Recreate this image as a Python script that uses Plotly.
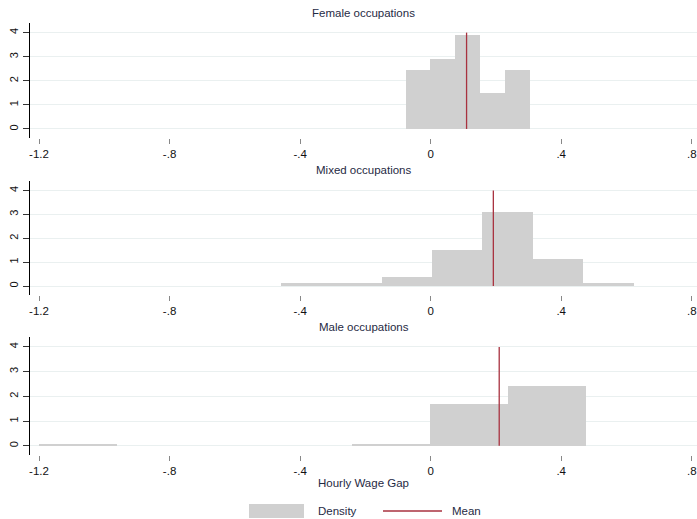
import plotly.graph_objects as go

# ---- data ----
panels = ["Female occupations", "Mixed occupations", "Male occupations"]

female_start, female_width = -0.0771, 0.0761
female_density = [2.455, 2.92, 3.90, 1.476, 2.455]

mixed_start, mixed_width = -0.459, 0.1544
mixed_density = [0.12, 0.12, 0.39, 1.53, 3.12, 1.13, 0.12]

male_start, male_width = -1.199, 0.2393
male_density = [0.08, 0.0, 0.0, 0.0, 0.07, 1.67, 2.40]

means = [0.110, 0.192, 0.210]

x_ticks = [-1.2, -0.8, -0.4, 0, 0.4, 0.8]
x_ticktext = ["-1.2", "-.8", "-.4", "0", ".4", ".8"]
y_ticks = [0, 1, 2, 3, 4]

hist = [(female_start, female_width, female_density),
        (mixed_start, mixed_width, mixed_density),
        (male_start, male_width, male_density)]

W, H = 697, 519
L = 30
FONT = "Liberation Sans, Arial, sans-serif"
BAR = "#d0d0d0"
MEAN = "#a8323f"
GRID = "#eaf0f0"
TXT = "#1f2a44"

# pixel extents of each panel (top, bottom)
px = [(23, 138), (181, 295), (337, 455)]

def py(v):
    return 1 - v / H

def pxx(v):
    return (v - L) / (W - L)

fig = go.Figure()
layout = {}
for i, ((start, width, dens), (top, bot)) in enumerate(zip(hist, px)):
    n = i + 1
    xa = "x" if n == 1 else f"x{n}"
    ya = "y" if n == 1 else f"y{n}"
    centers = [start + width * (k + 0.5) for k in range(len(dens))]
    fig.add_trace(go.Bar(x=centers, y=dens, width=width, xaxis=xa, yaxis=ya,
                         marker=dict(color=BAR, line=dict(width=0)),
                         showlegend=False, hoverinfo="skip"))
    fig.add_trace(go.Scatter(x=[means[i], means[i]], y=[0, 4], mode="lines",
                             xaxis=xa, yaxis=ya,
                             line=dict(color=MEAN, width=1.3),
                             showlegend=False, hoverinfo="skip"))
    xk = "xaxis" if n == 1 else f"xaxis{n}"
    yk = "yaxis" if n == 1 else f"yaxis{n}"
    layout[xk] = dict(domain=[0, 1], anchor=ya, range=[-1.2276, 0.816],
                      tickvals=x_ticks, ticktext=x_ticktext,
                      showgrid=False, zeroline=False, showline=False,
                      ticks="outside", ticklen=5, tickwidth=1, tickcolor="#888",
                      ticklabeloverflow="allow",
                      tickfont=dict(family=FONT, size=11.5, color="#111"),
                      fixedrange=True)
    layout[yk] = dict(domain=[py(bot), py(top)], anchor=xa, range=[-0.375, 4.4],
                      tickvals=y_ticks, showgrid=True, gridcolor=GRID, gridwidth=1,
                      zeroline=False, showline=True, linecolor="#000", linewidth=1.3,
                      ticks="outside", ticklen=6, tickwidth=1.2, tickcolor="#333",
                      tickangle=-90,
                      tickfont=dict(family=FONT, size=11, color="#111"),
                      fixedrange=True)

ann = []
for name, ty in zip(panels, [13, 170, 327]):
    ann.append(dict(text=name, x=0.5, y=py(ty), xref="paper", yref="paper",
                    showarrow=False, xanchor="center", yanchor="middle",
                    font=dict(family=FONT, size=11.5, color=TXT)))
ann.append(dict(text="Hourly Wage Gap", x=0.5, y=py(483), xref="paper", yref="paper",
                showarrow=False, xanchor="center", yanchor="middle",
                font=dict(family=FONT, size=11.5, color=TXT)))
ann.append(dict(text="Density", x=pxx(316), y=py(511), xref="paper", yref="paper",
                showarrow=False, xanchor="left", yanchor="middle",
                font=dict(family=FONT, size=11.5, color=TXT)))
ann.append(dict(text="Mean", x=pxx(450), y=py(511), xref="paper", yref="paper",
                showarrow=False, xanchor="left", yanchor="middle",
                font=dict(family=FONT, size=11.5, color=TXT)))

shapes = [
    dict(type="rect", xref="paper", yref="paper", x0=pxx(249), x1=pxx(304),
         y0=py(518), y1=py(504), fillcolor=BAR, line=dict(width=0)),
    dict(type="line", xref="paper", yref="paper", x0=pxx(383), x1=pxx(442),
         y0=py(511), y1=py(511), line=dict(color=MEAN, width=1.3)),
]

fig.update_layout(width=W, height=H, margin=dict(l=L, r=0, t=0, b=0),
                  paper_bgcolor="white", plot_bgcolor="white",
                  showlegend=False, bargap=0, annotations=ann, shapes=shapes,
                  **layout)

fig.write_html("out.html", config={"displayModeBar": False},
               post_script="document.body.style.margin='0';"
                           "document.body.style.overflow='hidden';")
